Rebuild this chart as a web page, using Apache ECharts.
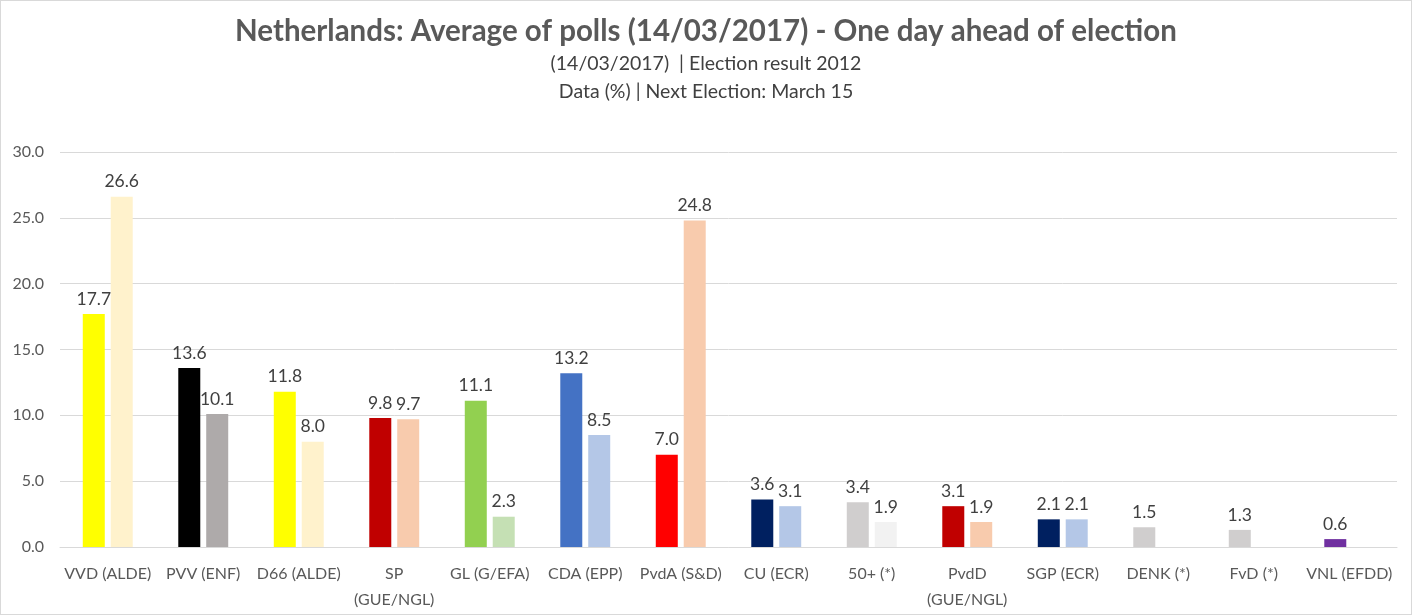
<!DOCTYPE html>
<html>
<head>
<meta charset="utf-8">
<script src="https://cdn.jsdelivr.net/npm/echarts@6/dist/echarts.min.js"></script>
<style>
html,body{margin:0;padding:0;background:#fff;}
#chart{width:1412px;height:615px;box-sizing:border-box;border:1px solid #d9d9d9;}
</style>
</head>
<body>
<div id="chart"></div>
<script>
const categories = ['VVD (ALDE)','PVV (ENF)','D66 (ALDE)','SP\n(GUE/NGL)','GL (G/EFA)','CDA (EPP)','PvdA (S&D)','CU (ECR)','50+ (*)','PvdD\n(GUE/NGL)','SGP (ECR)','DENK (*)','FvD (*)','VNL (EFDD)'];
const polls2017 = [17.7,13.6,11.8,9.8,11.1,13.2,7.0,3.6,3.4,3.1,2.1,1.5,1.3,0.6];
const election2012 = [26.6,10.1,8.0,9.7,2.3,8.5,24.8,3.1,1.9,1.9,2.1,null,null,null];
const pollColors = ['#FFFF00','#000000','#FFFF00','#C00000','#92D050','#4472C4','#FF0000','#002060','#D0CECE','#C00000','#002060','#D0CECE','#D0CECE','#7030A0'];
const electionColors = ['#FFF2CC','#AEAAAA','#FFF2CC','#F8CBAD','#C5E0B4','#B4C7E7','#F8CBAD','#B4C7E7','#F2F2F2','#F8CBAD','#B4C7E7','#FFFFFF','#FFFFFF','#FFFFFF'];
const yTicks = {min:0, max:30, interval:5};

const FONT = 'Lato, "Open Sans", sans-serif';
const chart = echarts.init(document.getElementById('chart'));
const labelCfg = {
  show:true, position:'top', distance:6,
  color:'#404040', fontSize:17.5, fontFamily:FONT,
  formatter: p => (p.value == null ? '' : Number(p.value).toFixed(1))
};
chart.setOption({
  animation:false,
  title:{
    text:'Netherlands: Average of polls (14/03/2017) - One day ahead of election',
    subtext:'(14/03/2017)  | Election result 2012\nData (%) | Next Election: March 15',
    left:'center', top:7, itemGap:1,
    textStyle:{fontFamily:FONT, fontSize:29.5, fontWeight:'bold', color:'#595959', lineHeight:36},
    subtextStyle:{fontFamily:FONT, fontSize:19.5, color:'#404040', lineHeight:28}
  },
  grid:{left:59, right:14, top:151, bottom:67, containLabel:false},
  xAxis:{
    type:'category', data:categories,
    axisLine:{show:true, lineStyle:{color:'#d9d9d9', width:1}},
    axisTick:{show:false},
    axisLabel:{interval:0, color:'#595959', fontSize:16, fontFamily:FONT, margin:14, lineHeight:26}
  },
  yAxis:{
    type:'value', min:yTicks.min, max:yTicks.max, interval:yTicks.interval,
    axisLine:{show:false}, axisTick:{show:false},
    splitLine:{lineStyle:{color:'#d9d9d9', width:1}},
    axisLabel:{color:'#595959', fontSize:16, fontFamily:FONT, margin:16, formatter:v=>v.toFixed(1)}
  },
  series:[
    {name:'Polls 2017', type:'bar', data:polls2017, barWidth:22, barGap:'27%',
     itemStyle:{color:p=>pollColors[p.dataIndex]}, label:labelCfg},
    {name:'Election 2012', type:'bar', data:election2012, barWidth:22, barGap:'27%',
     itemStyle:{color:p=>electionColors[p.dataIndex]}, label:labelCfg}
  ]
});
</script>
</body>
</html>
